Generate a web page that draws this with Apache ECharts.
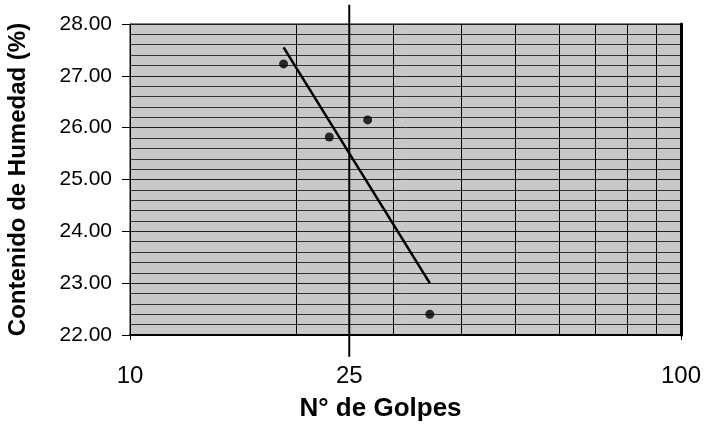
<!DOCTYPE html>
<html><head><meta charset="utf-8">
<script src="https://cdn.jsdelivr.net/npm/echarts@6/dist/echarts.min.js"></script>
<style>html,body{margin:0;padding:0;background:#fff}#c{width:706px;height:425px}</style>
</head><body><div id="c"></div>
<script>
const golpes = [19, 23, 27, 35];
const humedad = [27.23, 25.82, 26.15, 22.40];
const trendX = [19, 35];
const trendY = [27.55, 23.0];
const xLabelValues = [10, 25, 100];
const xGridValues = [20, 30, 40, 50, 60, 70, 80, 90];
const refX = 25;
const refYRange = [28.37, 21.58];

const chart = echarts.init(document.getElementById('c'), null, {renderer: 'canvas'});
chart.setOption({
  animation: false,
  backgroundColor: '#fff',
  grid: {left: 130, right: 25, top: 24, bottom: 90, outerBoundsMode: 'none', containLabel: false, show: true, backgroundColor: '#c8c8c8', borderColor: '#000', borderWidth: 1},
  xAxis: {
    type: 'log', logBase: 10, min: 10, max: 100,
    name: 'N° de Golpes', nameLocation: 'middle', nameGap: 61,
    nameTextStyle: {fontFamily: 'Liberation Sans', fontWeight: 'bold', fontSize: 26, color: '#000', padding: [0, 50, 0, 0]},
    axisLine: {show: true, lineStyle: {color: '#000', width: 2}},
    axisTick: {show: true, length: 5, customValues: [10, 100], lineStyle: {color: '#000'}},
    axisLabel: {customValues: xLabelValues, margin: 29, fontFamily: 'Liberation Sans', fontSize: 24, color: '#000'},
    splitLine: {show: false}
  },
  yAxis: [{
    type: 'value', min: 22, max: 28, interval: 1,
    name: 'Contenido de Humedad (%)', nameLocation: 'middle', nameGap: 100,
    nameTextStyle: {fontFamily: 'Liberation Sans', fontWeight: 'bold', fontSize: 24, color: '#000'},
    axisLine: {show: true, lineStyle: {color: '#000', width: 1}},
    axisTick: {show: true, length: 8, lineStyle: {color: '#000'}},
    axisLabel: {margin: 18, fontFamily: 'Liberation Sans', fontSize: 21, color: '#000', formatter: v => v.toFixed(2)},
    splitLine: {show: true, lineStyle: {color: '#222', width: 1}},
    minorTick: {show: false, splitNumber: 5},
    minorSplitLine: {show: true, lineStyle: {color: '#333', width: 1}}
  }, {
    type: 'value', min: 22, max: 28, position: 'right',
    axisLine: {show: true, lineStyle: {color: '#000', width: 3}},
    axisTick: {show: false}, axisLabel: {show: false}, splitLine: {show: false}
  }],
  series: [
    {
      type: 'line', data: [], silent: true,
      markLine: {
        symbol: 'none', silent: true, label: {show: false},
        lineStyle: {color: '#000', width: 1, type: 'solid'},
        data: xGridValues.map(v => ({xAxis: v}))
      }
    },
    {
      type: 'line', clip: false, symbol: 'none', silent: true,
      lineStyle: {color: '#000', width: 2},
      data: [[refX, refYRange[0]], [refX, refYRange[1]]]
    },
    {
      type: 'line', symbol: 'none', silent: true,
      lineStyle: {color: '#000', width: 2.5},
      data: trendX.map((x, i) => [x, trendY[i]])
    },
    {
      type: 'scatter', symbol: 'circle', symbolSize: 9,
      itemStyle: {color: '#000'},
      data: golpes.map((x, i) => [x, humedad[i]])
    }
  ]
});
</script>
</body></html>
